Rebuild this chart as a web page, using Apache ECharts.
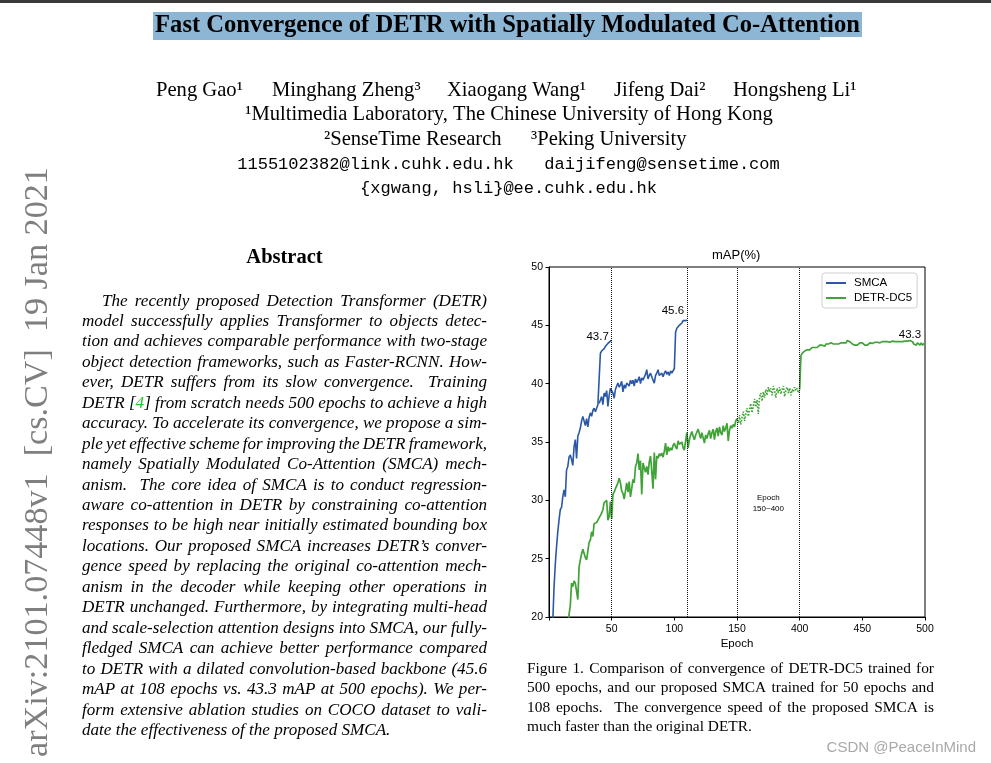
<!DOCTYPE html>
<html><head><meta charset="utf-8">
<script src="https://cdn.jsdelivr.net/npm/echarts@6/dist/echarts.min.js"></script>
<style>html,body{margin:0;padding:0;background:#fff;overflow:hidden}#c{width:991px;height:763px}</style>
</head><body><div id="c"></div>
<script>
// ---------------- data ----------------
const xTickLabels = ['', '50', '100', '150', '400', '450', '500'];
const yTicks = [20, 25, 30, 35, 40, 45, 50];
const phaseLines = [50, 110, 150, 400];          // epochs of dotted vertical separators
const peakLabels = ['43.7', '45.6', '43.3'];

// SMCA, shared schedule, epochs 2..40
const smcaSharedStart = 2;
const smcaShared = [16.5,19.5,22.5,24.5,26,27.3,28.3,29.2,29.4,30.3,30.9,30.3,32.6,32.9,33.7,33.9,33.5,33.0,34.6,35.2,33.6,35.5,35.8,36.2,36.8,37.2,37.3,36.4,37.0,36.3,37.1,37.5,37.2,37.7,37.9,37.6,37.9,38.2,38.3];
// SMCA 50-epoch schedule, epochs 41..50
const smca50Start = 41;
const smca50 = [42.6,42.8,42.9,43.0,43.2,43.3,43.45,43.55,43.65,43.7];
// SMCA 108-epoch schedule, epochs 41..110
const smca108Start = 41;
const smca108 = [38.6,38.9,38.2,39.2,38.9,39.4,38.05,39.0,39.6,39.7,
 39.2,38.75,39.5,39.8,40.05,39.7,39.9,40.2,39.3,39.9,
 39.6,40.05,40.2,39.8,40.3,40.0,40.3,39.8,40.4,40.1,
 40.3,40.6,40.0,40.5,40.3,40.2,40.8,41.2,40.4,40.7,
 40.9,40.6,40.3,40.05,40.7,40.9,41.2,40.7,40.6,40.9,
 40.6,40.9,41.1,40.8,41.0,40.7,41.1,40.9,41.0,41.3,
 44.4,44.75,44.9,45.0,45.1,45.2,45.4,45.45,45.4,45.45];
// DETR-DC5, epochs 15..150
const detrEarlyStart = 15;
const detrEarly = [19.0,20.2,21.0,22.9,22.6,23.1,22.9,23.0,21.5,24.3,
 24.9,25.4,25.8,25.9,25.1,24.9,25.0,26.4,26.6,27.3,
 26.9,28.0,28.1,28.1,28.3,28.5,28.4,28.9,29.2,29.8,
 29.9,30.0,28.3,28.6,29.9,28.4,30.5,30.7,31.0,31.1,
 31.5,31.9,31.5,30.8,30.6,30.1,30.0,31.5,30.7,31.6,
 30.3,31.0,31.8,31.5,32.9,33.2,34.0,32.6,33.4,30.5,
 33.2,32.8,32.4,32.9,32.2,33.3,33.8,32.5,31.0,34.1,
 31.8,33.8,33.6,34.0,33.8,34.05,33.7,34.2,34.9,33.9,
 34.6,34.2,34.5,34.3,34.7,34.9,34.6,34.4,35.1,34.8,
 34.9,35.0,34.5,34.3,35.1,35.8,34.5,35.2,35.6,35.9,
 35.5,35.2,35.6,35.5,36.1,36.2,35.3,35.8,35.9,34.9,
 35.6,35.3,35.7,36.0,35.3,35.8,36.1,35.2,35.9,36.2,
 35.5,36.3,35.8,35.6,36.4,35.9,36.2,36.6,35.1,36.0,
 36.4,36.2,36.5,36.3,36.8,37.0];
// DETR-DC5, epochs 150..400 every 5 epochs (compressed region, dotted)
const detrMidStart = 150, detrMidStep = 5;
const detrMid = [37.0,36.6,37.3,36.5,37.1,37.6,36.8,37.4,37.9,37.2,
 37.8,38.3,37.5,38.1,38.7,38.0,38.6,37.4,38.9,39.2,
 38.5,39.3,38.8,39.5,39.0,39.7,39.3,39.6,39.0,39.8,
 39.4,38.8,39.6,39.2,39.7,39.1,39.5,39.8,38.9,39.4,
 39.7,39.2,39.6,39.0,39.5,39.3,39.7,39.4,39.6,39.2,39.5];
// DETR-DC5, epochs 400..500
const detrLateStart = 400;
const detrLate = [39.5,
 42.4,42.6,42.7,42.8,42.8,42.9,43.0,42.9,43.0,43.1,
 43.0,43.1,43.2,43.1,43.2,43.3,43.2,43.3,43.3,43.2,
 43.4,43.3,43.4,43.3,43.5,43.4,43.4,43.5,43.4,43.5,
 43.4,43.4,43.5,43.6,43.5,43.6,43.5,43.7,43.75,43.6,
 43.5,43.4,43.4,43.3,43.35,43.3,43.45,43.5,43.55,43.5,
 43.4,43.3,43.2,43.3,43.4,43.5,43.5,43.45,43.5,43.55,
 43.5,43.55,43.6,43.5,43.55,43.6,43.5,43.6,43.55,43.6,
 43.5,43.55,43.6,43.65,43.5,43.6,43.55,43.6,43.65,43.6,
 43.55,43.6,43.6,43.65,43.7,43.65,43.6,43.7,43.55,43.6,
 43.4,43.5,43.3,43.5,43.4,43.3,43.5,43.3,43.4,43.5];

// ---------------- page text ----------------
const titleText = 'Fast Convergence of DETR with Spatially Modulated Co-Attention';
const authors = ['Peng Gao\u00b9', 'Minghang Zheng\u00b3', 'Xiaogang Wang\u00b9', 'Jifeng Dai\u00b2', 'Hongsheng Li\u00b9'];
const affil1 = '\u00b9Multimedia Laboratory, The Chinese University of Hong Kong';
const affil2 = ['\u00b2SenseTime Research', '\u00b3Peking University'];
const emails1 = '1155102382@link.cuhk.edu.hk   daijifeng@sensetime.com';
const emails2 = '{xgwang, hsli}@ee.cuhk.edu.hk';
const stamp = 'arXiv:2101.07448v1  [cs.CV]  19 Jan 2021';
const abstractLines = [
 'The recently proposed Detection Transformer (DETR)',
 'model successfully applies Transformer to objects detec-',
 'tion and achieves comparable performance with two-stage',
 'object detection frameworks, such as Faster-RCNN. How-',
 'ever, DETR suffers from its slow convergence.  Training',
 'DETR [4] from scratch needs 500 epochs to achieve a high',
 'accuracy. To accelerate its convergence, we propose a sim-',
 'ple yet effective scheme for improving the DETR framework,',
 'namely Spatially Modulated Co-Attention (SMCA) mech-',
 'anism.  The core idea of SMCA is to conduct regression-',
 'aware co-attention in DETR by constraining co-attention',
 'responses to be high near initially estimated bounding box',
 'locations. Our proposed SMCA increases DETR\u2019s conver-',
 'gence speed by replacing the original co-attention mech-',
 'anism in the decoder while keeping other operations in',
 'DETR unchanged. Furthermore, by integrating multi-head',
 'and scale-selection attention designs into SMCA, our fully-',
 'fledged SMCA can achieve better performance compared',
 'to DETR with a dilated convolution-based backbone (45.6',
 'mAP at 108 epochs vs. 43.3 mAP at 500 epochs). We per-',
 'form extensive ablation studies on COCO dataset to vali-',
 'date the effectiveness of the proposed SMCA.'
];
const captionLines = [
 'Figure 1. Comparison of convergence of DETR-DC5 trained for',
 '500 epochs, and our proposed SMCA trained for 50 epochs and',
 '108 epochs.  The convergence speed of the proposed SMCA is',
 'much faster than the original DETR.'
];

// ---------------- helpers ----------------
function toPos(e) { // piecewise axis: 0-150 linear, 150-400 compressed to 50 units, 400-500 linear
  if (e <= 150) return e;
  if (e <= 400) return 150 + (e - 150) / 5;
  return 200 + (e - 400);
}
function series(start, vals, step) {
  step = step || 1;
  return vals.map((v, i) => [toPos(start + i * step), v]);
}
const mctx = document.createElement('canvas').getContext('2d');
function measure(font, s) { mctx.font = font; return mctx.measureText(s).width; }
function fitSize(tpl, text, target, base) {
  const w = measure(tpl(base), text);
  return base * target / w;
}
const SERIF = '"Liberation Serif", "Times New Roman", serif';
const SANS = '"Liberation Sans", Arial, sans-serif';
const MONO = '"Liberation Mono", "Courier New", monospace';

function txt(x, y, text, font, align, extra) {
  return Object.assign({
    type: 'text', x: x, y: y, silent: true,
    style: { text: text, font: font, fill: '#000', textAlign: align || 'left', align: align || 'left', textVerticalAlign: 'middle', verticalAlign: 'middle' }
  }, extra || {});
}

function justify(lines, left, right, top, lh, font, indent, out) {
  const sp = measure(font, ' ');
  lines.forEach((ln, i) => {
    const y = top + i * lh;
    const x0 = left + (i === 0 ? indent : 0);
    const width = right - x0;
    const parts = ln.split(/( +)/).filter(s => s.length);
    let natural = 0, sepUnits = 0;
    parts.forEach(p => {
      if (p[0] === ' ') { natural += sp * p.length; sepUnits += p.length; }
      else natural += measure(font, p);
    });
    const extra = (i === lines.length - 1 || sepUnits === 0) ? 0 : (width - natural);
    let x = x0;
    parts.forEach(p => {
      if (p[0] === ' ') { x += sp * p.length + extra * p.length / sepUnits; return; }
      const el = txt(x, y, p, font, 'left');
      if (p.indexOf('[4]') >= 0) {
        el.style.text = p.replace('[4]', '[{g|4}]');
        el.style.rich = { g: { fill: '#22cc22', font: font } };
      }
      out.push(el);
      x += measure(font, p);
    });
  });
}

// ---------------- page graphics ----------------
const g = [];
g.push({ type: 'rect', silent: true, shape: { x: 0, y: 0, width: 991, height: 3 }, style: { fill: '#3a3a3a' } });
g.push({ type: 'rect', silent: true, shape: { x: 153, y: 12, width: 709, height: 25 }, style: { fill: '#8db5d4' } });
g.push({ type: 'rect', silent: true, shape: { x: 153, y: 37, width: 667, height: 3 }, style: { fill: '#8db5d4' } });

const titleSize = fitSize(s => 'bold ' + s + 'px ' + SERIF, titleText, 705, 24);
g.push(txt(507.5, 25.5, titleText, 'bold ' + titleSize + 'px ' + SERIF, 'center'));

const affSize = fitSize(s => s + 'px ' + SERIF, affil1, 528, 20);
const affFont = affSize + 'px ' + SERIF;
const authorX = [156, 272, 447, 614, 733];
authors.forEach((a, i) => g.push(txt(authorX[i], 91, a, affFont, 'left')));
g.push(txt(509, 115, affil1, affFont, 'center'));
g.push(txt(324, 139.5, affil2[0], affFont, 'left'));
g.push(txt(531, 139.5, affil2[1], affFont, 'left'));

const monoSize = fitSize(s => s + 'px ' + MONO, emails1, 543, 17);
g.push(txt(508.5, 164.5, emails1, monoSize + 'px ' + MONO, 'center'));
g.push(txt(508.5, 188.5, emails2, monoSize + 'px ' + MONO, 'center'));

const stampSize = fitSize(s => s + 'px ' + SERIF, stamp, 590, 34);
g.push(txt(38, 462, stamp, stampSize + 'px ' + SERIF, 'center', { rotation: Math.PI / 2, style: { text: stamp, font: stampSize + 'px ' + SERIF, fill: '#7f7f7f', textAlign: 'center', align: 'center', textVerticalAlign: 'middle', verticalAlign: 'middle' } }));

g.push(txt(284.5, 258, 'Abstract', 'bold 20.5px ' + SERIF, 'center'));
justify(abstractLines, 82, 487, 301, 20.45, 'italic 17.1px ' + SERIF, 20, g);
justify(captionLines, 527, 934, 668.5, 19.5, '15.4px ' + SERIF, 0, g);

g.push({ type: 'text', x: 976, y: 748, silent: true, style: { text: 'CSDN @PeaceInMind', font: '15px ' + SANS, fill: '#a9a9a9', textAlign: 'right', align: 'right', textVerticalAlign: 'middle', verticalAlign: 'middle' } });

// ---------------- chart ----------------
const BLUE = '#2b58a6', GREEN = '#40a337';
const tickFont = { fontFamily: 'Liberation Sans', fontSize: 10.5, color: '#000' };
const lineBase = { type: 'line', symbol: 'none', showSymbol: false, animation: false, silent: true, clip: true };

const smcaA = series(smcaSharedStart, smcaShared).concat(series(smca50Start, smca50));
const smcaB = [[toPos(40), smcaShared[smcaShared.length - 1]]].concat(series(smca108Start, smca108));
const detrA = series(detrEarlyStart, detrEarly);
const detrB = series(detrMidStart, detrMid, detrMidStep);
const detrC = series(detrLateStart, detrLate);

const option = {
  animation: false,
  title: { text: 'mAP(%)', left: 712, top: 249, padding: 0, textStyle: { fontFamily: 'Liberation Sans', fontSize: 13, fontWeight: 'normal', color: '#000' } },
  legend: {
    data: ['SMCA', 'DETR-DC5'], orient: 'vertical', left: 822, top: 273,
    padding: [4, 5, 4, 4], itemGap: 3, itemWidth: 20, itemHeight: 2, icon: 'rect',
    backgroundColor: '#fff', borderColor: '#cfcfcf', borderWidth: 1, borderRadius: 3,
    textStyle: { fontFamily: 'Liberation Sans', fontSize: 11.5, color: '#000', padding: [0, 0, 0, 3] },
    selectedMode: false
  },
  graphic: { elements: g },
  grid: { left: 549, top: 267, width: 376, height: 350, show: true, borderColor: '#000', borderWidth: 1, backgroundColor: 'transparent' },
  xAxis: {
    type: 'value', min: 0, max: 300, interval: 50,
    axisLine: { show: true, onZero: false, lineStyle: { color: '#000', width: 1 } },
    axisTick: { show: true, length: 3.5, lineStyle: { color: '#000' } },
    axisLabel: Object.assign({ margin: 7, formatter: v => xTickLabels[Math.round(v / 50)] || '' }, tickFont),
    splitLine: { show: false },
    name: 'Epoch', nameLocation: 'middle', nameGap: 21,
    nameTextStyle: { fontFamily: 'Liberation Sans', fontSize: 11.5, color: '#000' }
  },
  yAxis: {
    type: 'value', min: yTicks[0], max: yTicks[yTicks.length - 1], interval: 5,
    axisLine: { show: true, lineStyle: { color: '#000', width: 1 } },
    axisTick: { show: true, length: 3.5, lineStyle: { color: '#000' } },
    axisLabel: Object.assign({ margin: 6 }, tickFont),
    splitLine: { show: false }
  },
  series: [
    Object.assign({}, lineBase, {
      name: 'SMCA', data: smcaA, color: BLUE, lineStyle: { color: BLUE, width: 1.6 }, z: 3,
      markLine: {
        silent: true, symbol: ['none', 'none'], animation: false, label: { show: false },
        lineStyle: { color: '#111', type: 'dotted', width: 1 },
        data: phaseLines.map(e => ({ xAxis: toPos(e) }))
      },
      markPoint: {
        symbol: 'circle', symbolSize: 1, itemStyle: { color: 'rgba(0,0,0,0)' }, animation: false, silent: true,
        label: { show: true, position: 'inside', offset: [-14, -4], color: '#000', fontFamily: 'Liberation Sans', fontSize: 11.5, formatter: p => p.name },
        data: [{ name: peakLabels[0], coord: [toPos(50), smca50[smca50.length - 1]] }]
      }
    }),
    Object.assign({}, lineBase, {
      name: 'SMCA', data: smcaB, color: BLUE, lineStyle: { color: BLUE, width: 1.6 }, z: 3,
      markPoint: {
        symbol: 'circle', symbolSize: 1, itemStyle: { color: 'rgba(0,0,0,0)' }, animation: false, silent: true,
        label: { show: true, position: 'inside', offset: [-14, -9], color: '#000', fontFamily: 'Liberation Sans', fontSize: 11.5, formatter: p => p.name },
        data: [{ name: peakLabels[1], coord: [toPos(110), smca108[smca108.length - 1]] }]
      }
    }),
    Object.assign({}, lineBase, { name: 'DETR-DC5', data: detrA, color: GREEN, lineStyle: { color: GREEN, width: 1.7 }, z: 2 }),
    Object.assign({}, lineBase, {
      name: 'DETR-DC5', data: detrB, color: GREEN, lineStyle: { color: GREEN, width: 1.6, type: 'dotted' }, z: 2,
      markPoint: {
        symbol: 'circle', symbolSize: 1, itemStyle: { color: 'rgba(0,0,0,0)' }, animation: false, silent: true,
        label: { show: true, position: 'inside', color: '#000', fontFamily: 'Liberation Sans', fontSize: 8, lineHeight: 11.5, formatter: p => p.name },
        data: [{ name: 'Epoch\n150~400', coord: [toPos(275), 29.75] }]
      }
    }),
    Object.assign({}, lineBase, {
      name: 'DETR-DC5', data: detrC, color: GREEN, lineStyle: { color: GREEN, width: 1.7 }, z: 2,
      markPoint: {
        symbol: 'circle', symbolSize: 1, itemStyle: { color: 'rgba(0,0,0,0)' }, animation: false, silent: true,
        label: { show: true, position: 'inside', offset: [0, -6], color: '#000', fontFamily: 'Liberation Sans', fontSize: 11.5, formatter: p => p.name },
        data: [{ name: peakLabels[2], coord: [toPos(488), 43.65] }]
      }
    })
  ]
};
const chart = echarts.init(document.getElementById('c'), null, { renderer: 'canvas' });
chart.setOption(option);
</script>
</body></html>
